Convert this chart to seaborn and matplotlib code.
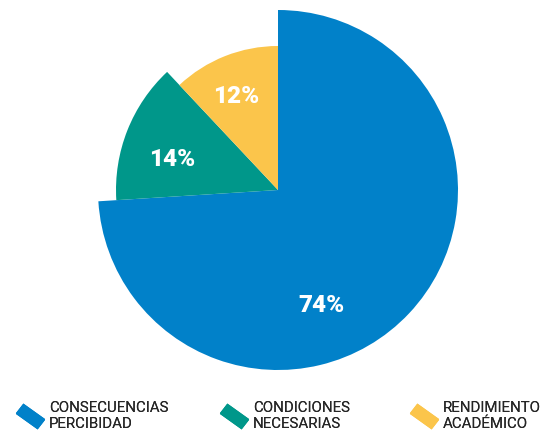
import matplotlib
matplotlib.use("Agg")
import matplotlib.pyplot as plt
import seaborn as sns
from matplotlib.lines import Line2D
from matplotlib.markers import MarkerStyle
from matplotlib.transforms import Affine2D

categories = ["CONSECUENCIAS\nPERCIBIDAD", "CONDICIONES\nNECESARIAS", "RENDIMIENTO\nACADÉMICO"]
values = [74, 14, 12]
pct_labels = ["74%", "14%", "12%"]
colors = ["#0181C9", "#00978A", "#FBC54B"]
radii = [1.0, 0.9, 0.8]

sns.set_theme(style="white")
plt.rcParams["font.family"] = ["Roboto", "DejaVu Sans"]

fig = plt.figure(figsize=(5.42, 4.32), dpi=100)
ax = fig.add_axes([0, 0, 1, 1])

wedges, _ = ax.pie(values, colors=colors, startangle=90, counterclock=False,
                   radius=1.0, wedgeprops=dict(linewidth=0))
for w, r in zip(wedges, radii):
    w.set_radius(r)

# label positions (data coords relative to pie centre)
label_pos = [(0.24, -0.64), (-0.59, 0.17), (-0.23, 0.52)]
for (x, y), txt in zip(label_pos, pct_labels):
    ax.text(x, y, txt, color="white", fontsize=17.5, fontweight="heavy",
            ha="center", va="center")

ax.set_aspect("equal")
ax.set_xlim(-278 / 180, (542 - 278) / 180)
ax.set_ylim(-(432 - 190) / 180, 190 / 180)
ax.axis("off")

# one legend per category, placed under the pie
ms = MarkerStyle("s", transform=Affine2D().scale(2.6, 1.2).rotate_deg(-35))
legend_x = [0.015, 0.392, 0.743]
for c, lab, lx in zip(colors, categories, legend_x):
    h = Line2D([], [], marker=ms, linestyle="", color=c, markersize=7.2)
    leg = fig.legend([h], [lab], loc="lower left", bbox_to_anchor=(lx, -0.022),
                     frameon=False, fontsize=10.8, handlelength=1.5,
                     handletextpad=0.5, borderaxespad=0.3)
    fig.add_artist(leg)

fig.savefig("out.png", dpi=100)
